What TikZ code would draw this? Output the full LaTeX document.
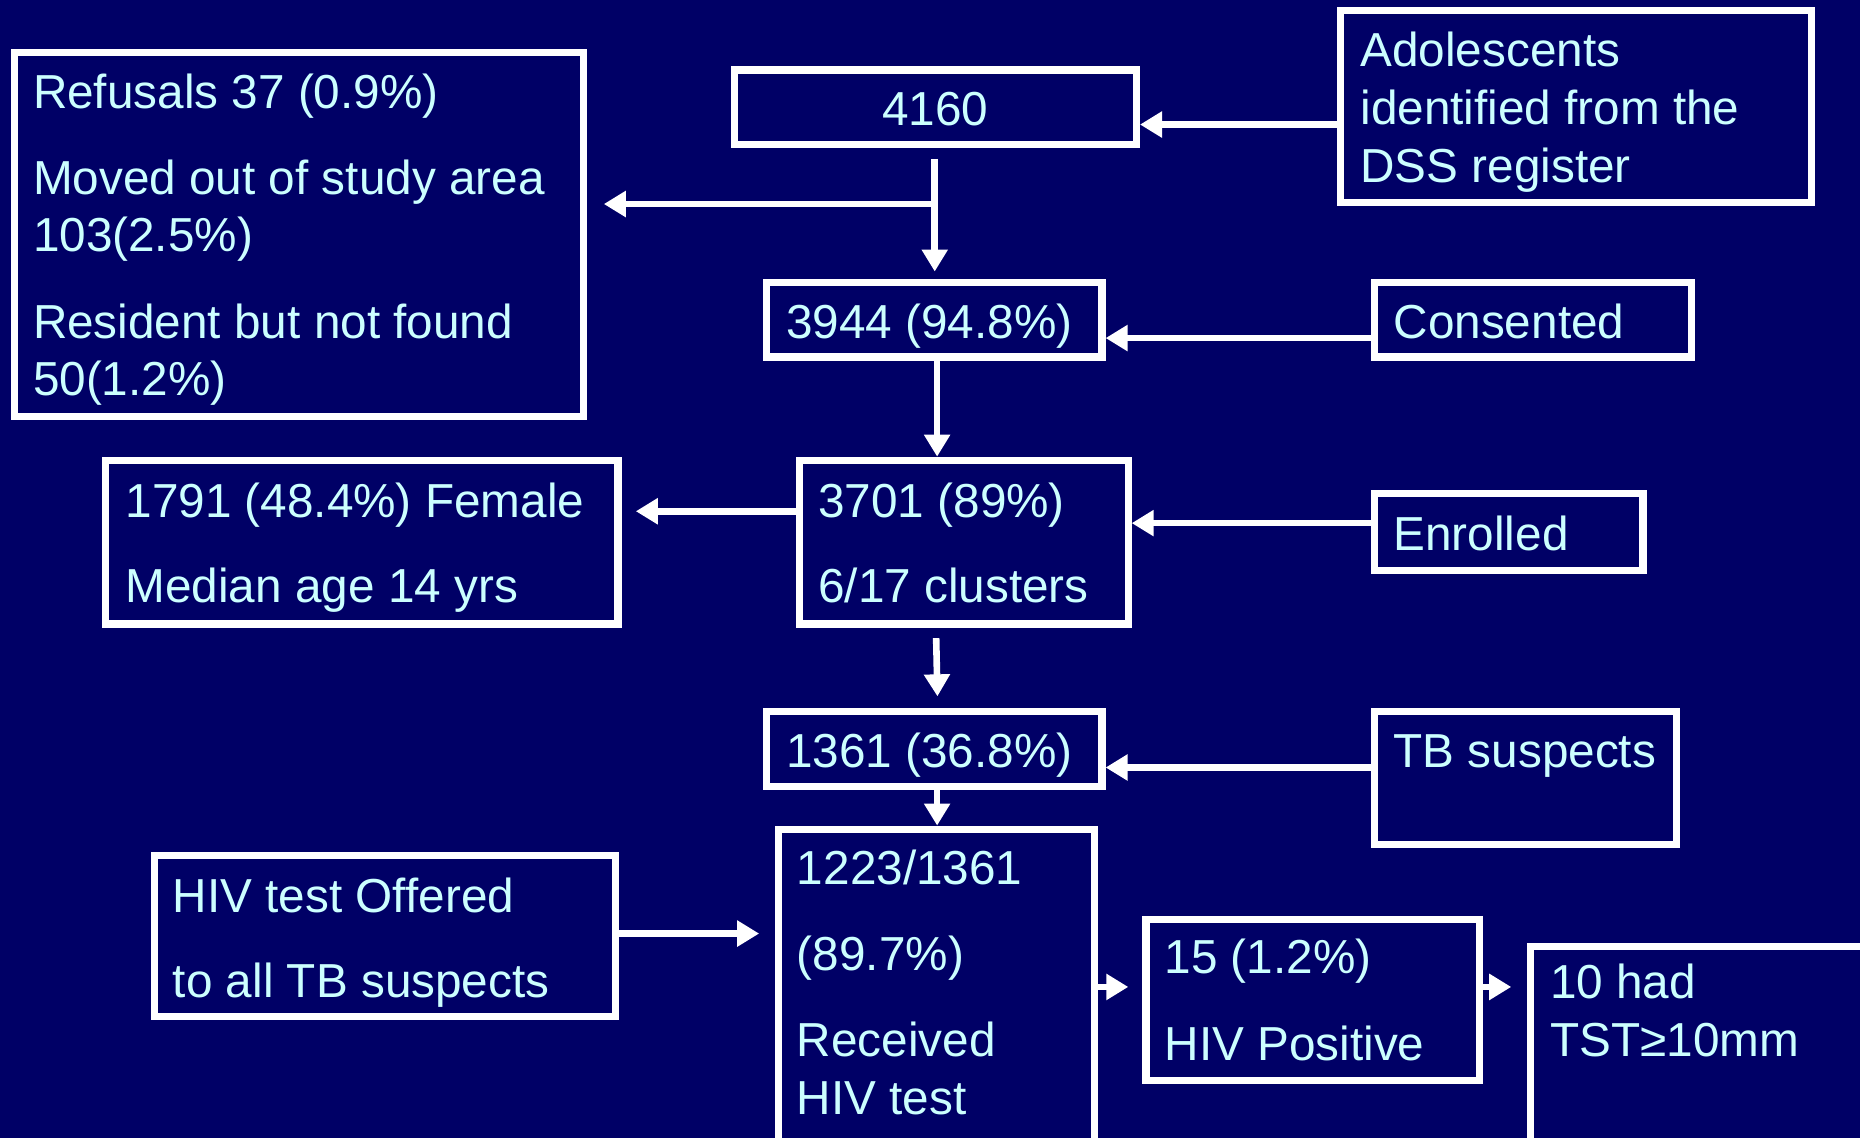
\documentclass[tikz,border=0pt]{standalone}
\usepackage{fontspec}
\setmainfont{Liberation Sans}
\usetikzlibrary{arrows.meta,fit,calc}
\definecolor{bg}{HTML}{000066}
\definecolor{txtc}{HTML}{CCFFFF}
\begin{document}
\begin{tikzpicture}[x=0.5931pt,y=-0.5931pt,
  box/.style={draw=white, line width=3.6pt, inner sep=0pt, rectangle},
  arr/.style={draw=white, line width=3.3pt, -{Triangle[length=11pt,width=12.5pt]}},
  txt/.style={anchor=base west, inner sep=0pt, text=txtc, font=\fontsize{23.85pt}{28pt}\selectfont}]
\fill[bg] (0,0) rectangle (1568,959);
\useasboundingbox (0,0) rectangle (1568,959);
\begin{scope}
\clip (0,0) rectangle (1568,959);
% boxes
\node[box, fit={(12,44) (492,351)}] (ref) {};
\node[box, fit={(619,59) (958,122)}] (n4160) {};
\node[box, fit={(1130,9) (1527,171)}] (adol) {};
\node[box, fit={(646,238) (929,301)}] (n3944) {};
\node[box, fit={(1159,238) (1426,301)}] (cons) {};
\node[box, fit={(674,388) (951,526)}] (n3701) {};
\node[box, fit={(89,388) (521,526)}] (fem) {};
\node[box, fit={(1159,416) (1385,481)}] (enr) {};
\node[box, fit={(646,600) (929,663)}] (n1361) {};
\node[box, fit={(1159,600) (1413,712)}] (tbs) {};
\node[box, fit={(656,699) (923,985)}] (n1223) {};
\node[box, fit={(130,721) (519,857)}] (hivoff) {};
\node[box, fit={(966,775) (1247,911)}] (pos) {};
\node[box, fit={(1290,798) (1600,990)}] (tst) {};
\end{scope}
% texts
\begin{scope}[shift={(1.5,1)}]
\node[txt] (t1) at (26,90.5) {Refusals 37 (0.9\%)};
\node[txt] (t2) at (26,163) {Moved out of study area};
\node[txt] (t3) at (26,211) {103(2.5\%)};
\node[txt] (t4) at (26,284.5) {Resident but not found};
\node[txt] (t5) at (26,332) {50(1.2\%)};
\node[txt, anchor=base] (t6) at (787,104.5) {4160};
\node[txt] (t7) at (1145,55) {Adolescents};
\node[txt] (t8) at (1145,104) {identified from the};
\node[txt] (t9) at (1145,152.6) {DSS register};
\node[txt] (t10) at (661,284) {3944 (94.8\%)};
\node[txt] (t11) at (1173,284) {Consented};
\node[txt] (t12) at (688,435) {3701 (89\%)};
\node[txt] (t13) at (688,507) {6/17 clusters};
\node[txt] (t14) at (104,435) {1791 (48.4\%) Female};
\node[txt] (t15) at (104,507) {Median age 14 yrs};
\node[txt] (t16) at (1173,463) {Enrolled};
\node[txt] (t17) at (661,646) {1361 (36.8\%)};
\node[txt] (t18) at (1173,646) {TB suspects};
\node[txt] (t19) at (670,745) {1223/1361};
\node[txt] (t20) at (670,817) {(89.7\%)};
\node[txt] (t21) at (670,890) {Received};
\node[txt] (t22) at (670,938.5) {HIV test};
\node[txt] (t23) at (144,768) {HIV test Offered};
\node[txt] (t24) at (144,840) {to all TB suspects};
\node[txt] (t25) at (980,820) {15 (1.2\%)};
\node[txt] (t26) at (980,893) {HIV Positive};
\node[txt] (t27) at (1305,841) {10 had};
\node[txt] (t28) at (1305,890) {TST≥10mm};
\end{scope}
% connectors
\coordinate (c1) at (0,105);
\draw[arr] (c1 -| adol.west) -- (c1 -| n4160.east);
\coordinate (v1) at (788,0);
\draw[arr, shorten <=5.3pt, shorten >=3.6pt] (v1 |- n4160.south) -- (v1 |- n3944.north);
\coordinate (b1) at (789.5,172);
\draw[arr, shorten >=8.3pt] (b1) -- (b1 -| ref.east);
\coordinate (c3) at (0,285);
\draw[arr] (c3 -| cons.west) -- (c3 -| n3944.east);
\coordinate (v2) at (790,0);
\draw[arr] (v2 |- n3944.south) -- (v2 |- n3701.north);
\coordinate (c5) at (0,431);
\draw[arr, shorten >=7.1pt] (c5 -| n3701.west) -- (c5 -| fem.east);
\coordinate (c6) at (0,441);
\draw[arr] (c6 -| enr.west) -- (c6 -| n3701.east);
\coordinate (v3) at (789,0);
\coordinate (v4) at (790.5,0);
\draw[arr, shorten <=5.3pt, shorten >=5.9pt] (v3 |- n3701.south) -- (v4 |- n1361.north);
\coordinate (c8) at (0,647);
\draw[arr] (c8 -| tbs.west) -- (c8 -| n1361.east);
\draw[arr] (v2 |- n1361.south) -- (v2 |- n1223.north);
\coordinate (c10) at (0,787);
\draw[arr, shorten >=7.7pt] (c10 -| hivoff.east) -- (c10 -| n1223.west);
\coordinate (c11) at (0,832);
\draw[arr, shorten >=7pt] (c11 -| n1223.east) -- (c11 -| pos.west);
\draw[arr, shorten >=7.7pt] (c11 -| pos.east) -- (c11 -| tst.west);
\end{tikzpicture}
\end{document}
